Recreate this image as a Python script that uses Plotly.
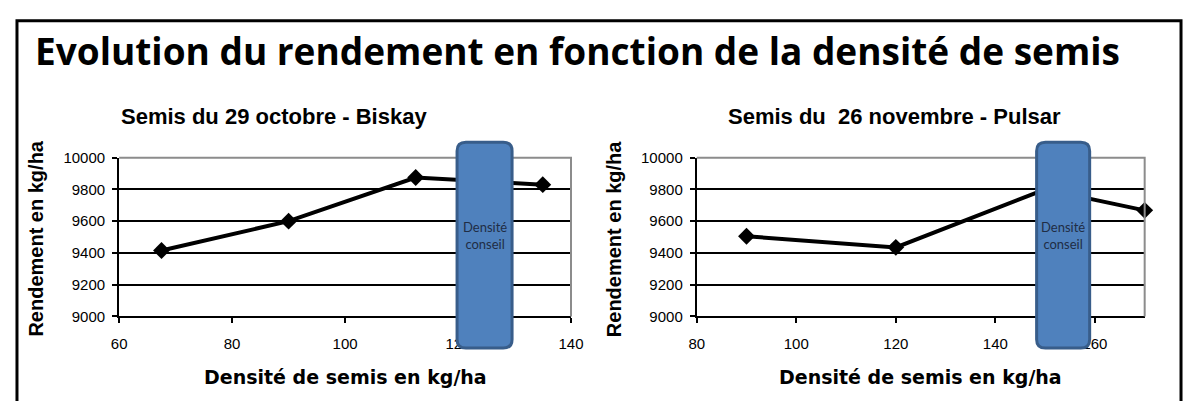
import plotly.graph_objects as go

# page is 1203x409, the html body adds an 8px margin round the figure
PAGE_W, PAGE_H = 1203, 409
OFF = 8
W, H = PAGE_W - 2 * OFF, PAGE_H - 2 * OFF

# data
biskay_density = [67.5, 90, 112.5, 135]
biskay_yield = [9415, 9600, 9875, 9830]
pulsar_density = [90, 120, 150, 170]
pulsar_yield = [9505, 9435, 9800, 9668]

y_ticks = [9000, 9200, 9400, 9600, 9800, 10000]
x_ticks_left = [60, 80, 100, 120, 140]
x_ticks_right = [80, 100, 120, 140, 160]

main_title = "Evolution du rendement en fonction de la densité de semis"
titles = ["Semis du 29 octobre - Biskay", "Semis du  26 novembre - Pulsar"]
x_title = "Densité de semis en kg/ha"
y_title = "Rendement en kg/ha"
box_text = "Densité<br>conseil"

BLUE = "#4F81BD"
BLUE_EDGE = "#385D8A"
BORDER = "#8C8C8C"
ARIAL = "Liberation Sans, Arial, sans-serif"


def px(x):
    # page pixel -> paper
    return (x - OFF) / W


def py(y):
    return 1 - (y - OFF) / H


def rounded_rect(x0, y0, x1, y1, r):
    pts = [
        f"M {px(x0 + r)},{py(y0)}",
        f"L {px(x1 - r)},{py(y0)}",
        f"Q {px(x1)},{py(y0)} {px(x1)},{py(y0 + r)}",
        f"L {px(x1)},{py(y1 - r)}",
        f"Q {px(x1)},{py(y1)} {px(x1 - r)},{py(y1)}",
        f"L {px(x0 + r)},{py(y1)}",
        f"Q {px(x0)},{py(y1)} {px(x0)},{py(y1 - r)}",
        f"L {px(x0)},{py(y0 + r)}",
        f"Q {px(x0)},{py(y0)} {px(x0 + r)},{py(y0)}",
        "Z",
    ]
    return " ".join(pts)


fig = go.Figure()

line_style = dict(color="black", width=4)
marker_style = dict(symbol="diamond", size=13, color="black")

fig.add_trace(go.Scatter(x=biskay_density, y=biskay_yield, mode="lines+markers",
                         line=line_style, marker=marker_style, xaxis="x", yaxis="y",
                         showlegend=False, cliponaxis=False))
fig.add_trace(go.Scatter(x=pulsar_density, y=pulsar_yield, mode="lines+markers",
                         line=line_style, marker=marker_style, xaxis="x2", yaxis="y2",
                         showlegend=False, cliponaxis=False))

plot_top, plot_bot = 155, 321
panels = [(113, 573), (701, 1157)]

tickfont = dict(family=ARIAL, size=15, color="black")

common_x = dict(showgrid=False, zeroline=False, showline=True, linecolor="black", linewidth=2,
                ticks="outside", ticklen=5, tickcolor="black", tickwidth=2,
                tickfont=tickfont, ticklabelstandoff=8)
common_y = dict(showgrid=True, gridcolor="black", gridwidth=2, zeroline=False, showline=True,
                linecolor="black", linewidth=2, ticks="outside", ticklen=5, tickcolor="black",
                tickwidth=2, tickfont=tickfont, tickvals=y_ticks,
                ticktext=[str(v) for v in y_ticks], range=[9000, 10000], ticklabelstandoff=4)

fig.update_layout(
    width=W, height=H,
    margin=dict(l=0, r=0, t=0, b=0),
    paper_bgcolor="white", plot_bgcolor="white",
    xaxis=dict(common_x, domain=[px(113), px(573)], range=[60, 140], tickvals=x_ticks_left,
               anchor="y"),
    yaxis=dict(common_y, domain=[py(plot_bot), py(plot_top)], anchor="x"),
    xaxis2=dict(common_x, domain=[px(701), px(1157)], range=[80, 170], tickvals=x_ticks_right,
                anchor="y2"),
    yaxis2=dict(common_y, domain=[py(plot_bot), py(plot_top)], anchor="x2"),
)

shapes = []
# outer frame
shapes.append(dict(type="path", xref="paper", yref="paper",
                   path=f"M {px(9)},{py(415)} L {px(9)},{py(12)} L {px(1194)},{py(12)} L {px(1194)},{py(415)}",
                   line=dict(color="black", width=3)))
# plot area border (top and right, grey)
for x0, x1 in panels:
    shapes.append(dict(type="path", xref="paper", yref="paper",
                       path=f"M {px(x0)},{py(plot_top)} L {px(x1)},{py(plot_top)} L {px(x1)},{py(plot_bot)}",
                       line=dict(color=BORDER, width=2)))
# "Densité conseil" boxes
boxes = [(457, 513), (1047, 1101)]
for x0, x1 in boxes:
    shapes.append(dict(type="path", xref="paper", yref="paper",
                       path=rounded_rect(x0, 139, x1, 354, 9),
                       fillcolor=BLUE, line=dict(color=BLUE_EDGE, width=3)))
fig.update_layout(shapes=shapes)

annotations = [
    dict(text=f"<b>{main_title}</b>", x=px(25), y=py(43), xref="paper", yref="paper",
         xanchor="left", yanchor="middle", showarrow=False,
         font=dict(family="Open Sans, Lato, sans-serif", size=37, color="black")),
]
title_centers = [271, 902]
for cx, t in zip(title_centers, titles):
    annotations.append(dict(text=f"<b>{t}</b>", x=px(cx), y=py(112),
                            xref="paper", yref="paper", xanchor="center", yanchor="middle",
                            showarrow=False, font=dict(family=ARIAL, size=22, color="black")))
for (x0, x1), ycx in zip(panels, [28, 617]):
    annotations.append(dict(text=f"<b>{x_title}</b>", x=px((x0 + x1) / 2), y=py(384),
                            xref="paper", yref="paper", xanchor="center", yanchor="middle",
                            showarrow=False,
                            font=dict(family="DejaVu Sans, sans-serif", size=19, color="black")))
    annotations.append(dict(text=f"<b>{y_title}</b>", x=px(ycx), y=py(240), textangle=-90,
                            xref="paper", yref="paper", xanchor="center", yanchor="middle",
                            showarrow=False, font=dict(family=ARIAL, size=20, color="black")))
for x0, x1 in boxes:
    annotations.append(dict(text=box_text, x=px((x0 + x1) / 2), y=py(236),
                            xref="paper", yref="paper", xanchor="center", yanchor="middle",
                            showarrow=False,
                            font=dict(family="Lato, Open Sans, sans-serif", size=13, color="#1F2D45")))
fig.update_layout(annotations=annotations)

fig.write_html("out.html")
